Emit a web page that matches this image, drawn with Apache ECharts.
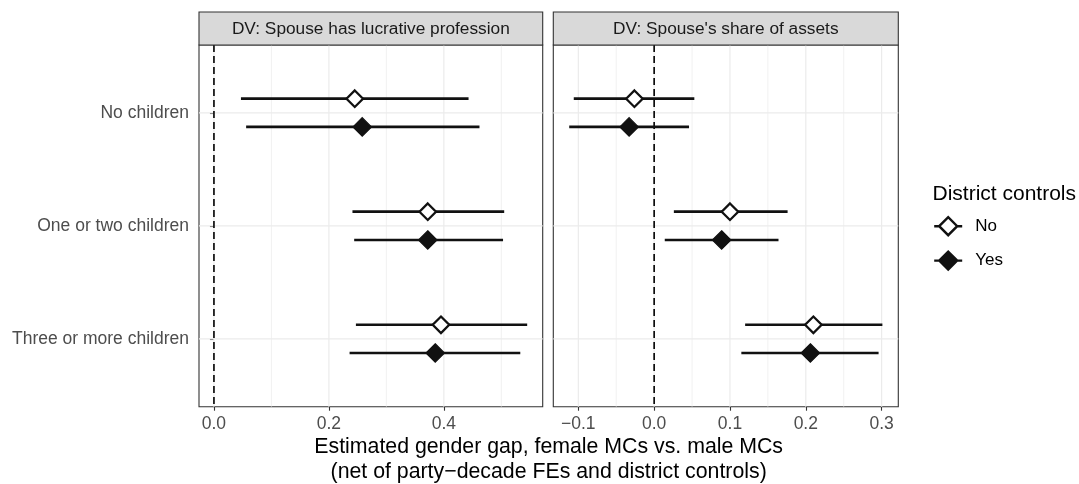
<!DOCTYPE html>
<html>
<head>
<meta charset="utf-8">
<script src="https://cdn.jsdelivr.net/npm/echarts@6/dist/echarts.min.js"></script>
<style>
html,body{margin:0;padding:0;background:#fff;}
#chart{width:1079px;height:484px;}
</style>
</head>
<body>
<div id="chart"></div>
<script>
// ---- data ----
const categories = ['No children', 'One or two children', 'Three or more children'];
const panelTitles = ['DV: Spouse has lucrative profession', "DV: Spouse's share of assets"];
const groups = ['No', 'Yes'];
const legendTitle = 'District controls';
const xTitle = 'Estimated gender gap, female MCs vs. male MCs\n(net of party\u2212decade FEs and district controls)';

// Panel 1: spouse has lucrative profession
const lucrNoEst  = [0.245, 0.372, 0.395];
const lucrNoLo   = [0.047, 0.241, 0.247];
const lucrNoHi   = [0.443, 0.505, 0.545];
const lucrYesEst = [0.258, 0.372, 0.385];
const lucrYesLo  = [0.056, 0.244, 0.236];
const lucrYesHi  = [0.462, 0.503, 0.533];

// Panel 2: spouse's share of assets
const assetNoEst  = [-0.026, 0.100, 0.210];
const assetNoLo   = [-0.106, 0.026, 0.120];
const assetNoHi   = [0.053, 0.176, 0.301];
const assetYesEst = [-0.033, 0.089, 0.206];
const assetYesLo  = [-0.112, 0.014, 0.115];
const assetYesHi  = [0.046, 0.164, 0.296];

// tick values
const lucrTicks  = [0, 0.2, 0.4];
const lucrMinor  = [0.1, 0.3, 0.5];
const assetTicks = [-0.1, 0, 0.1, 0.2, 0.3];
const assetMinor = [-0.05, 0.05, 0.15, 0.25];
const refLine    = [0];
const catTicks   = [1, 2, 3];

// ---- styling / layout ----
const FONT = "'Liberation Sans', Arial, Helvetica, sans-serif";
const INK = '#111111';
const DODGE = 0.125;
const panelTop = 45, panelH = 361.7, stripTop = 12, stripH = 33;
const panels = [
  {left: 199, width: 343.7, min: -0.026, max: 0.572, ticks: lucrTicks, minor: lucrMinor,
   no: [lucrNoEst, lucrNoLo, lucrNoHi], yes: [lucrYesEst, lucrYesLo, lucrYesHi]},
  {left: 553.3, width: 345, min: -0.133, max: 0.322, ticks: assetTicks, minor: assetMinor,
   no: [assetNoEst, assetNoLo, assetNoHi], yes: [assetYesEst, assetYesLo, assetYesHi]}
];

const fmt = v => (Math.abs(v) < 1e-9 ? '0.0' : v.toFixed(1).replace('-', '\u2212'));

const grid = [], xAxis = [], yAxis = [], series = [], graphic = [];

function vlines(idx, values, style, z) {
  return {
    type: 'custom', xAxisIndex: idx, yAxisIndex: idx, silent: true, z: z,
    data: values.map(v => [v, 2]), encode: {x: 0, y: 1},
    renderItem: (params, api) => {
      const cs = params.coordSys;
      const x = api.coord([api.value(0), api.value(1)])[0];
      return {type: 'line', shape: {x1: x, y1: cs.y, x2: x, y2: cs.y + cs.height}, style: Object.assign({}, style)};
    }
  };
}
function hlines(idx, values, style, z) {
  return {
    type: 'custom', xAxisIndex: idx, yAxisIndex: idx, silent: true, z: z,
    data: values.map(v => [0, v]), encode: {x: 0, y: 1},
    renderItem: (params, api) => {
      const cs = params.coordSys;
      const y = api.coord([api.value(0), api.value(1)])[1];
      return {type: 'line', shape: {x1: cs.x, y1: y, x2: cs.x + cs.width, y2: y}, style: Object.assign({}, style)};
    }
  };
}
function errorBars(idx, vals, off, z) {
  const [est, lo, hi] = vals;
  return {
    type: 'custom', xAxisIndex: idx, yAxisIndex: idx, silent: true, z: z,
    data: categories.map((c, i) => [lo[i], hi[i], i + 1 + off]),
    encode: {x: [0, 1], y: 2},
    renderItem: (params, api) => {
      const a = api.coord([api.value(0), api.value(2)]);
      const b = api.coord([api.value(1), api.value(2)]);
      return {type: 'line', shape: {x1: a[0], y1: a[1], x2: b[0], y2: b[1]},
              style: {stroke: INK, lineWidth: 2.7}};
    }
  };
}

const noStyle  = {color: '#ffffff', borderColor: INK, borderWidth: 2.3, opacity: 1};
const yesStyle = {color: INK, borderColor: INK, borderWidth: 1.2, opacity: 1};

panels.forEach((p, idx) => {
  grid.push({left: p.left, top: panelTop, width: p.width, height: panelH,
             show: true, backgroundColor: '#fff', borderColor: '#333333', borderWidth: 1.1, containLabel: false});
  xAxis.push({
    type: 'value', gridIndex: idx, min: p.min, max: p.max,
    axisLine: {show: false},
    splitLine: {show: false},
    axisTick: {show: true, customValues: p.ticks, length: 4, lineStyle: {color: '#333333', width: 1.1}},
    axisLabel: {show: true, customValues: p.ticks, formatter: fmt, margin: 8,
                color: '#4D4D4D', fontSize: 17.5, fontFamily: FONT}
  });
  yAxis.push({
    type: 'value', gridIndex: idx, min: 0.4, max: 3.6, inverse: true,
    axisLine: {show: false},
    splitLine: {show: false},
    axisTick: {show: idx === 0, customValues: catTicks, length: 4, lineStyle: {color: '#333333', width: 1.1}},
    axisLabel: {show: idx === 0, customValues: catTicks, formatter: v => categories[Math.round(v) - 1] || '',
                margin: 10, color: '#4D4D4D', fontSize: 17.5, fontFamily: FONT}
  });
  series.push(vlines(idx, p.minor, {stroke: '#EBEBEB', lineWidth: 0.7}, 1));
  series.push(vlines(idx, p.ticks, {stroke: '#EBEBEB', lineWidth: 1.2}, 1));
  series.push(hlines(idx, catTicks, {stroke: '#EBEBEB', lineWidth: 1.2}, 1));
  series.push(vlines(idx, refLine, {stroke: '#000000', lineWidth: 1.6, lineDash: [7, 4]}, 2));
  series.push(errorBars(idx, p.no, -DODGE, 3));
  series.push(errorBars(idx, p.yes, DODGE, 3));
  series.push({
    type: 'scatter', name: 'No', xAxisIndex: idx, yAxisIndex: idx, z: 4,
    symbol: 'diamond', symbolSize: 16.5, itemStyle: noStyle,
    data: categories.map((c, i) => [p.no[0][i], i + 1 - DODGE])
  });
  series.push({
    type: 'scatter', name: 'Yes', xAxisIndex: idx, yAxisIndex: idx, z: 4,
    symbol: 'diamond', symbolSize: 18.5, itemStyle: yesStyle,
    data: categories.map((c, i) => [p.yes[0][i], i + 1 + DODGE])
  });
  // facet strip
  graphic.push({type: 'rect', silent: true, z: 10,
    shape: {x: p.left, y: stripTop, width: p.width, height: stripH},
    style: {fill: '#D9D9D9', stroke: '#333333', lineWidth: 1.1}});
  graphic.push({type: 'text', silent: true, z: 11,
    style: {text: panelTitles[idx], x: p.left + p.width / 2, y: stripTop + stripH / 2 + 0.5,
            textAlign: 'center', textVerticalAlign: 'middle', fontSize: 17.3, fontFamily: FONT, fill: '#1A1A1A'}});
});

graphic.push({type: 'text', silent: true,
  style: {text: xTitle, x: (199 + 898.3) / 2, y: 459.5, textAlign: 'center', textVerticalAlign: 'middle',
          fontSize: 21.3, lineHeight: 25, fontFamily: FONT, fill: '#000'}});
graphic.push({type: 'text', silent: true,
  style: {text: legendTitle, x: 932.5, y: 194, textAlign: 'left', textVerticalAlign: 'middle',
          fontSize: 21, fontFamily: FONT, fill: '#000'}});

const iconPath = 'path://M0,9 L5,9 M5,9 L14,0 L23,9 L14,18 Z M23,9 L28,9';

const chart = echarts.init(document.getElementById('chart'), null, {renderer: 'canvas'});
chart.setOption({
  backgroundColor: '#ffffff',
  animation: false,
  textStyle: {fontFamily: FONT},
  grid, xAxis, yAxis, series, graphic,
  legend: {
    orient: 'vertical', left: 933, top: 216, padding: 0,
    itemWidth: 28, itemHeight: 18, itemGap: 14, selectedMode: false,
    textStyle: {fontSize: 17, color: '#000', fontFamily: FONT, padding: [0, 0, 0, 8]},
    data: [
      {name: groups[0], icon: iconPath, itemStyle: {color: '#ffffff', borderColor: INK, borderWidth: 2.4, opacity: 1}},
      {name: groups[1], icon: iconPath, itemStyle: {color: INK, borderColor: INK, borderWidth: 2.4, opacity: 1}}
    ]
  }
});
</script>
</body>
</html>
